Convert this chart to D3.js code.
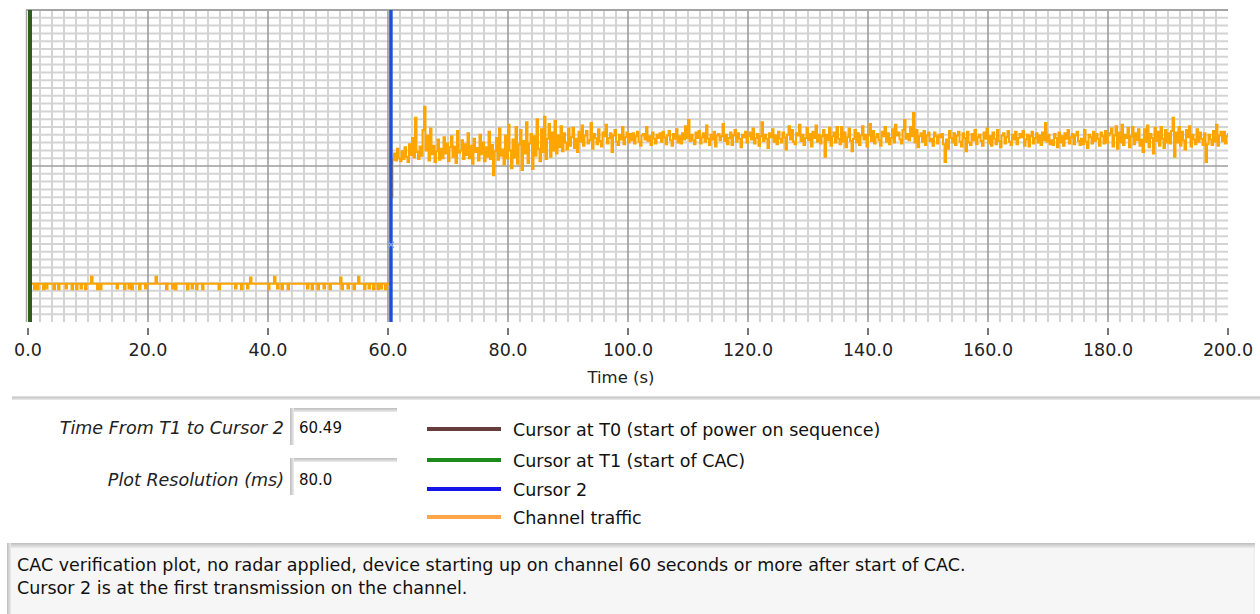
<!DOCTYPE html>
<html>
<head>
<meta charset="utf-8">
<script src="https://cdn.jsdelivr.net/npm/d3@7"></script>
<style>
  html, body { margin: 0; padding: 0; background: #ffffff; }
  svg { display: block; }
  text { font-family: "DejaVu Sans", Verdana, sans-serif; }
</style>
</head>
<body>
<svg id="chart" width="1260" height="614"></svg>
<script>
// ---- data ---------------------------------------------------------------
const timeDomain = [0, 200];          // seconds
const levelDomain = [0, 40];          // relative channel level
const xMajorTicks = [0, 20, 40, 60, 80, 100, 120, 140, 160, 180, 200];
const xTickLabels = ["0.0", "20.0", "40.0", "60.0", "80.0", "100.0", "120.0", "140.0", "160.0", "180.0", "200.0"];
const xAxisTitle = "Time (s)";

const sampleStep = 0.25;              // seconds between plotted samples

// channel level from 0 s to 60 s (idle channel)
const idleStart = 0;
const idleTraffic = [
  4.9,4.2,4.9,4.9,4.2,4.9,4.2,4.9,4.9,4.9,4.2,4.9,4.3,4.9,4.9,4.9,4.9,4.2,4.9,4.9,
  4.2,4.9,4.9,4.9,4.9,4.3,4.9,4.9,4.9,4.2,4.9,4.9,4.2,4.9,4.9,4.3,4.9,4.9,4.2,4.9,
  4.9,4.9,5.8,4.9,4.9,4.9,4.2,4.9,4.2,4.9,4.9,4.9,4.9,4.9,4.9,4.9,4.9,4.9,4.9,4.3,
  4.9,4.9,4.9,4.9,4.2,4.9,4.9,4.3,4.9,4.2,4.9,4.9,4.9,4.9,4.2,4.9,4.9,4.9,4.3,4.9,
  4.9,4.9,4.9,4.9,4.9,5.8,4.9,4.9,4.9,4.9,4.9,4.9,4.2,4.9,4.9,4.9,4.3,4.9,4.2,4.9,
  4.9,4.9,4.9,4.9,4.9,4.9,4.2,4.9,4.9,4.3,4.9,4.9,4.2,4.9,4.9,4.9,4.2,4.9,4.9,4.9,
  4.9,4.9,4.9,4.9,4.9,4.9,4.9,4.2,4.9,4.9,4.9,4.9,4.9,4.9,4.9,4.9,4.9,4.9,4.3,4.9,
  4.9,4.9,4.2,4.9,4.9,4.9,4.3,4.9,5.7,4.9,4.9,4.9,4.9,4.9,4.9,4.9,4.9,4.9,4.9,4.9,
  4.2,4.9,4.9,4.9,5.8,4.9,4.3,4.9,4.9,4.2,4.9,4.9,4.9,4.2,4.9,4.9,4.9,4.9,4.9,4.9,
  4.9,4.9,4.9,4.9,4.9,4.9,4.3,4.9,4.9,4.2,4.9,4.9,4.9,4.2,4.9,4.9,4.9,4.3,4.9,4.9,
  4.9,4.2,4.9,4.9,4.9,4.9,4.9,4.9,5.7,4.2,4.9,4.9,4.9,4.3,4.9,4.9,4.9,4.2,4.9,4.9,
  5.8,4.9,4.9,4.9,4.2,4.9,4.9,4.3,4.9,4.9,4.2,4.9,4.9,4.2,4.9,4.3,4.9,4.9,4.2,4.9,
  4.9,4.9
];

// channel level from 60.5 s onwards (device transmitting)
const activeStart = 60.5;
const activeTraffic = [
  16.0,20.8,21.6,20.7,22.2,21.0,20.6,21.9,20.9,22.4,21.2,20.5,22.8,21.4,23.6,21.1,26.2,21.8,20.9,22.5,
  21.3,24.6,27.6,22.0,23.9,20.7,24.8,21.5,22.6,20.5,21.9,23.4,20.8,22.2,21.0,23.7,21.6,22.9,20.6,22.4,
  23.8,21.2,22.5,20.4,24.5,21.7,22.0,23.3,20.9,22.8,21.4,24.2,21.0,22.6,20.3,23.5,21.8,22.3,20.7,24.0,
  21.5,23.0,20.6,22.4,21.2,24.4,20.9,22.7,18.8,21.9,23.6,20.8,24.8,21.3,22.1,20.2,23.9,21.0,25.3,22.0,
  19.7,23.4,21.1,25.0,20.3,22.8,24.6,19.5,23.2,21.6,25.6,20.4,22.9,24.1,19.6,23.8,21.3,26.0,22.2,20.6,
  24.7,21.8,26.3,20.9,23.5,25.4,21.2,24.3,22.0,25.8,21.6,23.9,22.4,25.1,21.9,24.2,23.0,22.1,24.8,22.6,
  23.7,24.9,22.3,23.5,21.8,24.4,23.1,25.2,22.6,23.9,24.5,22.9,23.3,25.5,22.2,24.1,23.6,22.8,24.7,23.2,
  22.5,24.3,23.8,25.3,22.9,23.6,24.2,21.8,23.9,24.6,23.1,22.7,24.0,23.4,25.0,22.8,23.7,24.3,23.0,24.1,
  23.3,24.2,22.9,23.8,24.4,23.1,22.6,23.9,24.1,23.4,25.0,23.2,23.8,22.7,24.3,23.5,22.9,24.0,23.6,24.2,
  23.1,24.4,23.7,22.8,23.9,24.5,23.3,22.6,24.1,23.5,24.7,23.0,23.8,22.9,24.2,23.4,25.1,23.6,25.9,23.2,
  24.0,23.3,22.8,24.3,23.6,24.5,22.9,23.7,24.2,23.1,25.2,23.5,22.7,24.0,23.4,24.4,22.5,23.9,24.1,23.3,
  23.8,25.4,23.2,24.0,22.8,23.6,24.3,22.7,23.9,24.6,23.1,24.2,23.5,22.4,24.0,23.7,24.4,23.0,23.8,24.3,
  23.4,24.8,22.9,23.6,24.1,22.6,23.8,25.6,23.2,24.0,23.5,22.3,24.2,23.7,24.7,23.1,23.9,22.8,24.4,23.5,
  23.0,24.3,23.7,22.1,24.0,25.1,23.4,24.6,23.1,22.8,24.2,23.9,25.3,23.2,24.0,22.7,23.6,24.9,23.3,24.1,
  22.5,24.4,23.6,25.2,23.1,24.0,22.9,23.8,24.6,21.2,24.0,23.3,24.9,22.6,23.8,24.3,23.0,25.0,23.5,22.8,
  25.0,23.1,24.3,22.4,23.7,24.8,23.2,21.9,23.5,24.6,23.0,24.2,22.7,23.9,25.1,23.4,24.0,22.5,23.9,25.4,
  23.2,24.5,22.9,23.7,24.1,23.3,22.6,24.4,23.8,25.0,23.1,24.2,22.8,23.6,24.7,23.0,25.3,23.9,24.3,23.4,
  22.9,24.6,25.9,23.5,24.1,23.3,25.0,23.8,26.8,23.0,24.6,22.4,23.8,24.2,23.1,24.5,22.7,23.9,24.3,23.2,
  23.5,22.6,24.3,23.8,22.9,24.0,23.7,24.1,22.8,20.5,23.4,22.2,24.5,23.6,23.0,24.2,22.7,23.9,24.4,23.1,
  22.5,24.2,23.6,21.9,24.4,23.0,22.7,24.1,23.3,24.6,22.8,23.7,24.0,23.2,22.6,24.3,23.5,24.8,22.9,23.8,
  22.6,24.3,23.5,22.8,24.6,23.2,22.4,23.9,24.2,22.9,23.7,24.5,23.1,22.7,24.0,23.4,24.4,22.8,23.6,24.1,
  23.7,24.5,22.6,23.4,24.0,22.5,23.8,24.4,22.9,23.6,24.2,23.0,23.9,22.7,24.3,23.3,25.5,23.1,24.0,22.8,
  23.3,22.7,24.1,23.6,22.4,24.3,23.0,23.8,22.6,24.2,23.5,24.6,22.9,23.7,24.1,22.8,23.9,24.4,23.2,22.7,
  23.5,22.8,24.6,23.1,22.3,24.0,23.7,22.9,24.4,23.2,24.1,23.5,22.6,24.3,23.8,22.9,24.5,23.0,23.9,24.2,
  24.8,22.5,23.9,25.1,22.2,24.3,23.0,25.3,22.7,24.0,23.6,24.9,22.4,23.8,25.0,22.8,24.2,23.3,24.7,22.6,
  23.4,21.8,24.7,23.1,25.2,22.4,24.1,23.6,21.6,24.9,23.2,24.4,22.6,25.0,23.5,22.3,24.6,23.0,24.2,22.9,
  24.5,26.2,21.2,24.3,23.0,25.0,22.6,24.4,23.3,22.1,24.6,23.7,25.1,22.5,24.0,23.4,22.8,24.7,23.1,24.3,
  23.5,22.7,24.2,20.5,22.8,24.0,23.4,22.7,24.5,23.1,25.3,22.6,23.9,24.4,23.2,24.4,22.9,23.8,24.1,23.5
];

// cursors: T0, T1 and Cursor 2
const cursorLabels = ["Cursor at T0 (start of power on sequence)", "Cursor at T1 (start of CAC)", "Cursor 2"];
const cursorTimes = [0, 0, 60.49];
const cursor2Level = 9.9;

const trafficLabel = "Channel traffic";
const plotResolutionMs = 80.0;
const readoutLabels = ["Time From T1 to Cursor 2", "Plot Resolution (ms)"];

const noteLines = [
  "CAC verification plot, no radar applied, device starting up on channel 60 seconds or more after start of CAC.",
  "Cursor 2 is at the first transmission on the channel."
];

// ---- layout -------------------------------------------------------------
const plot = { left: 28, right: 1228, top: 10, bottom: 322 };
const FONT = 17.5;

const svg = d3.select("#chart");
const defs = svg.append("defs");

function vGradient(id, c0, c1) {
  const g = defs.append("linearGradient").attr("id", id)
    .attr("x1", 0).attr("y1", 0).attr("x2", 0).attr("y2", 1);
  g.append("stop").attr("offset", "0%").attr("stop-color", c0);
  g.append("stop").attr("offset", "100%").attr("stop-color", c1);
}
function hGradient(id, c0, c1) {
  const g = defs.append("linearGradient").attr("id", id)
    .attr("x1", 0).attr("y1", 0).attr("x2", 1).attr("y2", 0);
  g.append("stop").attr("offset", "0%").attr("stop-color", c0);
  g.append("stop").attr("offset", "100%").attr("stop-color", c1);
}
vGradient("bevelTop", "#bdbdbd", "#ececec");
hGradient("bevelLeft", "#bdbdbd", "#ececec");

defs.append("clipPath").attr("id", "plotClip")
  .append("rect")
  .attr("x", plot.left).attr("y", plot.top)
  .attr("width", plot.right - plot.left).attr("height", plot.bottom - plot.top);

const x = d3.scaleLinear().domain(timeDomain).range([plot.left, plot.right]);
const y = d3.scaleLinear().domain(levelDomain).range([plot.bottom, plot.top]);

// ---- grid ---------------------------------------------------------------
const grid = svg.append("g");
const xMinor = d3.range(timeDomain[0] + 2, timeDomain[1], 2).filter(t => t % 20 !== 0);
const xMajorInner = xMajorTicks.filter(t => t > timeDomain[0] && t < timeDomain[1]);
const yMinor = d3.range(levelDomain[0] + 1, levelDomain[1], 1).filter(v => v % 20 !== 0);
const yMajorInner = [20];

grid.selectAll(".xminor").data(xMinor).join("line")
  .attr("x1", d => x(d)).attr("x2", d => x(d))
  .attr("y1", plot.top).attr("y2", plot.bottom)
  .attr("stroke", "#d4d4d4").attr("stroke-width", 2);
grid.selectAll(".yminor").data(yMinor).join("line")
  .attr("x1", plot.left).attr("x2", plot.right)
  .attr("y1", d => y(d)).attr("y2", d => y(d))
  .attr("stroke", "#d4d4d4").attr("stroke-width", 2);
grid.selectAll(".xmajor").data(xMajorInner).join("line")
  .attr("x1", d => x(d)).attr("x2", d => x(d))
  .attr("y1", plot.top).attr("y2", plot.bottom)
  .attr("stroke", "#9c9c9c").attr("stroke-width", 1.6);
grid.selectAll(".ymajor").data(yMajorInner).join("line")
  .attr("x1", plot.left).attr("x2", plot.right)
  .attr("y1", d => y(d)).attr("y2", d => y(d))
  .attr("stroke", "#9c9c9c").attr("stroke-width", 1.6);

// frame: top and left edges
svg.append("line")
  .attr("x1", plot.left - 2).attr("x2", plot.right)
  .attr("y1", y(levelDomain[1])).attr("y2", y(levelDomain[1]))
  .attr("stroke", "#a4a4a4").attr("stroke-width", 2.2);
svg.append("line")
  .attr("x1", plot.left - 1.5).attr("x2", plot.left - 1.5)
  .attr("y1", plot.top).attr("y2", plot.bottom)
  .attr("stroke", "#a4a4a4").attr("stroke-width", 1.5);

// ---- channel traffic trace ---------------------------------------------
const trace = idleTraffic.map((v, i) => ({ t: idleStart + i * sampleStep, v }))
  .concat(activeTraffic.map((v, i) => ({ t: activeStart + i * sampleStep, v })));

const line = d3.line()
  .x(d => x(d.t)).y(d => y(d.v))
  .curve(d3.curveStepAfter);

svg.append("path")
  .datum(trace)
  .attr("clip-path", "url(#plotClip)")
  .attr("fill", "none")
  .attr("stroke", "#ffa500")
  .attr("stroke-width", 2)
  .attr("stroke-linejoin", "miter")
  .attr("d", line);

// ---- cursors ------------------------------------------------------------
const cursorPlotColors = ["#5a3838", "#2c5e1e", "#1f4fd8"];
svg.selectAll(".cursor").data(cursorTimes).join("line")
  .attr("x1", d => x(d) + (d === timeDomain[0] ? 2 : 0))
  .attr("x2", d => x(d) + (d === timeDomain[0] ? 2 : 0))
  .attr("y1", plot.top).attr("y2", plot.bottom)
  .attr("stroke", (d, i) => cursorPlotColors[i])
  .attr("stroke-width", (d, i) => i === 2 ? 3.5 : 4);

// cursor 2 point marker
const mx = x(cursorTimes[2]), my = y(cursor2Level);
svg.append("path")
  .attr("d", `M${mx - 3},${my - 3}L${mx + 3},${my + 3}M${mx + 3},${my - 3}L${mx - 3},${my + 3}`)
  .attr("stroke", "#7fa3e6").attr("stroke-width", 1.3).attr("fill", "none");

// ---- x axis -------------------------------------------------------------
const axis = svg.append("g");
axis.selectAll(".tick").data(xMajorTicks).join("line")
  .attr("x1", d => x(d)).attr("x2", d => x(d))
  .attr("y1", 328).attr("y2", 335)
  .attr("stroke", "#555").attr("stroke-width", 1.6);
axis.selectAll(".ticklabel").data(xMajorTicks).join("text")
  .attr("x", d => x(d)).attr("y", 350)
  .attr("text-anchor", "middle").attr("dominant-baseline", "central")
  .attr("font-size", FONT).attr("fill", "#222")
  .text((d, i) => xTickLabels[i]);
axis.append("text")
  .attr("x", 621).attr("y", 377)
  .attr("text-anchor", "middle").attr("dominant-baseline", "central")
  .attr("font-size", FONT - 1).attr("fill", "#222")
  .text(xAxisTitle);

// separator under the graph
svg.append("rect")
  .attr("x", 12).attr("y", 396.5).attr("width", 1248).attr("height", 3.5)
  .attr("fill", "url(#bevelTop)");

// ---- readouts -----------------------------------------------------------
const readoutValues = [d3.format(".2f")(cursorTimes[2] - cursorTimes[1]), d3.format(".1f")(plotResolutionMs)];
const readoutBoxes = [{ top: 408, bottom: 445, cy: 428 }, { top: 458, bottom: 495, cy: 480 }];
const readouts = svg.append("g");
readoutBoxes.forEach((b, i) => {
  readouts.append("rect").attr("x", 290).attr("y", b.top).attr("width", 107).attr("height", 4)
    .attr("fill", "url(#bevelTop)");
  readouts.append("rect").attr("x", 290).attr("y", b.top).attr("width", 4).attr("height", b.bottom - b.top)
    .attr("fill", "url(#bevelLeft)");
  readouts.append("text")
    .attr("x", 284).attr("y", b.cy)
    .attr("text-anchor", "end").attr("dominant-baseline", "central")
    .attr("font-size", FONT).attr("font-style", "italic").attr("fill", "#222")
    .text(readoutLabels[i]);
  readouts.append("text")
    .attr("x", 299).attr("y", b.cy)
    .attr("dominant-baseline", "central")
    .attr("font-size", 15).attr("fill", "#111")
    .text(readoutValues[i]);
});

// ---- legend -------------------------------------------------------------
const legendLabels = cursorLabels.concat([trafficLabel]);
const legendColors = ["#663c3c", "#1c8a1c", "#1414e6", "#ffa64a"];
const legendY = [429, 460, 489, 517];
const legend = svg.append("g");
legend.selectAll(".swatch").data(legendLabels).join("line")
  .attr("x1", 427).attr("x2", 501)
  .attr("y1", (d, i) => legendY[i]).attr("y2", (d, i) => legendY[i])
  .attr("stroke", (d, i) => legendColors[i]).attr("stroke-width", 4);
legend.selectAll(".label").data(legendLabels).join("text")
  .attr("x", 513).attr("y", (d, i) => legendY[i] + 1)
  .attr("dominant-baseline", "central")
  .attr("font-size", FONT).attr("fill", "#111")
  .text(d => d);

// ---- notes box ----------------------------------------------------------
svg.append("rect").attr("x", 10).attr("y", 548).attr("width", 1243).attr("height", 66).attr("fill", "#f6f6f6");
svg.append("rect").attr("x", 7).attr("y", 543).attr("width", 1248).attr("height", 5).attr("fill", "url(#bevelTop)");
svg.append("rect").attr("x", 7).attr("y", 543).attr("width", 4).attr("height", 71).attr("fill", "url(#bevelLeft)");
svg.append("line").attr("x1", 1254).attr("x2", 1254).attr("y1", 548).attr("y2", 614)
  .attr("stroke", "#e2e2e2").attr("stroke-width", 1);
svg.selectAll(".note").data(noteLines).join("text")
  .attr("x", 17).attr("y", (d, i) => 565 + i * 23)
  .attr("dominant-baseline", "central")
  .attr("font-size", FONT).attr("fill", "#111")
  .text(d => d);
</script>
</body>
</html>
